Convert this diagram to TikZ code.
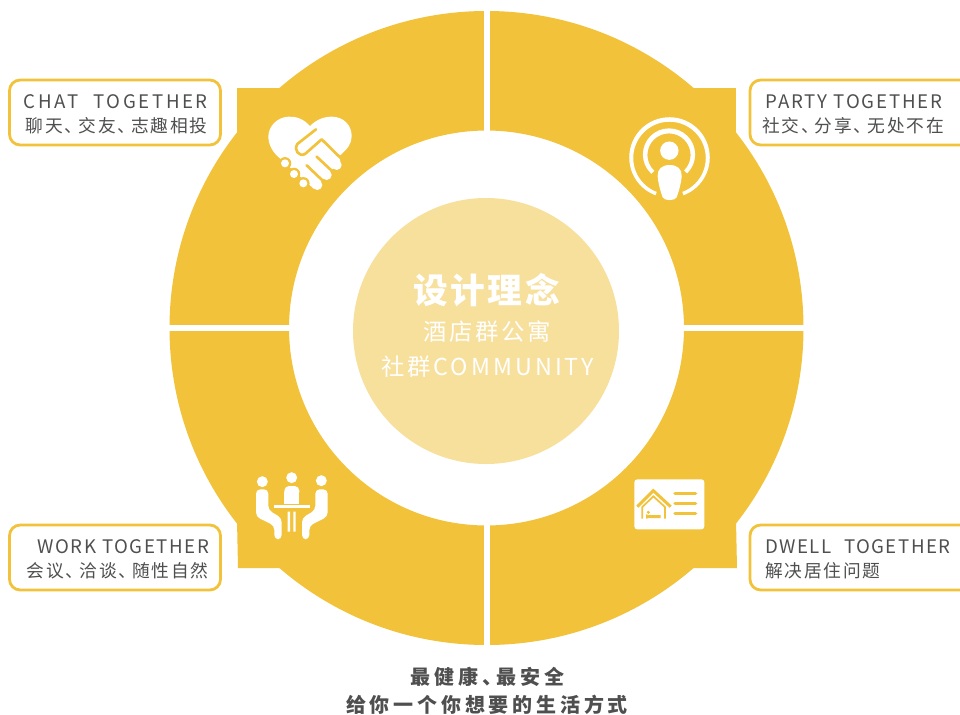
\documentclass[tikz,border=0pt]{standalone}
\usepackage{fontspec}
\setmainfont{Noto Sans CJK SC}
\newfontfamily\fa[LetterSpace=10]{Noto Sans CJK SC}
\newfontfamily\fb[LetterSpace=14,WordSpace=2.2]{Noto Sans CJK SC}
\newfontfamily\fc[LetterSpace=8]{Noto Sans CJK SC}
\newfontfamily\fd[LetterSpace=19]{Noto Sans CJK SC}
\newfontfamily\fe[LetterSpace=12]{Noto Sans CJK SC}
\newfontfamily\ff[LetterSpace=8,WordSpace=2.2]{Noto Sans CJK SC}
\newfontfamily\fg[LetterSpace=8.5]{Noto Sans CJK SC}
\newfontfamily\fh[LetterSpace=13]{Noto Sans CJK SC}
\newcommand{\dn}{、\kern-.22em}
\newcommand{\fn}{、\kern-.28em}
\definecolor{gold}{HTML}{F1C23A}
\definecolor{pale}{HTML}{F7DF9C}
\definecolor{ink}{HTML}{4F4F4F}
\tikzset{
  x=0.75pt,y=-0.75pt,
  card/.style={draw=gold,line width=2.1pt,fill=white,rounded corners=8pt},
  en/.style={text=ink,inner sep=0pt,font=\fontsize{14}{16}\selectfont\fa},
  enw/.style={text=ink,inner sep=0pt,font=\fontsize{14}{16}\selectfont\fb},
  enx/.style={text=ink,inner sep=0pt,font=\fontsize{14}{16}\selectfont\ff},
  eny/.style={text=ink,inner sep=0pt,font=\fontsize{14}{16}\selectfont\fg},
  cn/.style={text=ink,inner sep=0pt,font=\fontsize{13.3}{16}\selectfont\fa},
  foot/.style={text=ink,inner sep=0pt,font=\fontsize{15}{16}\selectfont\fd\bfseries},
  ic/.style={x=0.25pt,y=-0.25pt},
}
\begin{document}
\begin{tikzpicture}
\useasboundingbox (0,0) rectangle (960,714);
\clip (0,0) rectangle (960,714);
% ring
\fill[gold,even odd rule] (486.5,328) circle[radius=237.75pt] (486.5,328) circle[radius=148.1pt];
\fill[gold] (237,88) rectangle (300,140);
\fill[gold] (736,88) rectangle (670,140);
\fill[gold] (238,568) -- (237,520) -- (300,520) -- (300,568) -- cycle;
\fill[gold] (737,568) -- (736,520) -- (670,520) -- (670,568) -- cycle;
\fill[white] (483.7,0) rectangle (490.3,660);
\fill[white] (160,324.7) rectangle (815,331.3);
% centre
\node[circle,fill=pale,minimum size=199.5pt,inner sep=0pt] (hub) at (486,331) {};
\node[text=white,inner sep=0pt,font=\fontsize{26}{28}\selectfont\fc\bfseries] (t1) at (486.5,290) {设计理念};
\node[text=white,inner sep=0pt,font=\fontsize{17.5}{20}\selectfont\fe] (t2) at (487,331.8) {酒店群公寓};
\node[text=white,inner sep=0pt,font=\fontsize{17.5}{20}\selectfont\fh] (t3) at (487.5,366.8) {社群COMMUNITY};
% cards
\draw[card] (9.5,80) rectangle (220.5,145);
\draw[card] (750,80) rectangle (975,145);
\draw[card] (9.5,525) rectangle (220.5,590);
\draw[card] (750,525) rectangle (975,590);
\node[enw,anchor=east] (chatA) at (208,101.8) {CHAT TOGETHER};
\node[cn,anchor=east] (chatB) at (208,125.8) {聊天\dn 交友\dn 志趣相投};
\node[en,anchor=center] (partyA) at (854,101.8) {PARTY TOGETHER};
\node[cn,anchor=center] (partyB) at (853,125.8) {社交\dn 分享\dn 无处不在};
\node[eny,anchor=east] (workA) at (209.5,546.8) {WORK TOGETHER};
\node[cn,anchor=east] (workB) at (209,570.8) {会议\dn 洽谈\dn 随性自然};
\node[enx,anchor=west] (dwellA) at (765,546.8) {DWELL TOGETHER};
\node[cn,anchor=west] (dwellB) at (765,570.8) {解决居住问题};
\node[foot] (f1) at (487.5,676.8) {最健康\fn 最安全};
\node[foot] (f2) at (487,704.8) {给你一个你想要的生活方式};
% handshake icon
\begin{scope}[shift={(250,100)},ic]
\fill[white] (180,78) .. controls (160,56) and (138,49) .. (115,50) .. controls (80,52) and (55,80) .. (55,110)
  .. controls (55,135) and (70,160) .. (90,175) -- (191,266) -- (213,244) -- (219,236) -- (241,214) -- (249,206) -- (271,184) -- (268,168)
  .. controls (295,145) and (305,130) .. (305,108) .. controls (305,75) and (280,50) .. (245,50)
  .. controls (220,50) and (198,60) .. (180,78) -- cycle;
\fill[white] (260,195) circle[radius=3.75pt] (230,225) circle[radius=3.75pt] (202,255) circle[radius=3.75pt];
\draw[gold,line width=2pt,line cap=round,line join=round] (198,88) -- (142,132) .. controls (130,150) and (148,172) .. (165,162) -- (215,118) -- (272,174);
\draw[gold,line width=2pt,line cap=round] (200,170) -- (245,212);
\draw[gold,line width=2pt,line cap=round] (170,196) -- (216,240);
\foreach \p/\q in {105/190,132/222,160/250}{
  \fill[gold] (\p,\q) circle[radius=4.7pt];
  \fill[white] (\p,\q) circle[radius=3pt];
}
\end{scope}
% podcast icon
\begin{scope}
\clip (669.5,157) -- (630,265) -- (610,265) -- (610,100) -- (730,100) -- (730,265) -- (709,265) -- cycle;
\fill[white,even odd rule] (669.5,157.5) circle[radius=30.2pt] (669.5,158) circle[radius=27.2pt];
\end{scope}
\begin{scope}
\clip (669,156) -- (620,205) -- (620,110) -- (720,110) -- (720,205) -- cycle;
\fill[white,even odd rule] (669,154.5) circle[radius=19.6pt] (669,155) circle[radius=16.2pt];
\end{scope}
\begin{scope}[shift={(620,110)},ic]
\fill[white] (148,122) circle[radius=6.9pt];
\fill[white] (149,165) .. controls (125,165) and (112,178) .. (113,198) .. controls (114,220) and (122,245) .. (128,262)
  .. controls (132,273) and (166,273) .. (170,262) .. controls (176,245) and (184,220) .. (185,198) .. controls (186,178) and (173,165) .. (149,165) -- cycle;
\end{scope}
% meeting icon
\begin{scope}[shift={(240,460)},ic]
\fill[white] (67,65) circle[radius=4.1pt] (155,53) circle[radius=4.1pt] (244,62) circle[radius=4.1pt];
\fill[white,rounded corners=3.5pt] (133,110) -- (133,78) -- (178,78) -- (178,110) -- cycle;
\fill[white] (133,95) rectangle (178,131);
\fill[white] (103,135) rectangle (210,144);
\fill[white] (143,155) rectangle (150,215) (160,155) rectangle (167,215);
\fill[white,rounded corners=3.2pt] (48,170) -- (48,88) -- (85,88) -- (85,150) -- (125,174) -- (125,238) -- (103,238) -- (103,197) -- cycle;
\fill[white,rounded corners=3.2pt] (263,170) -- (263,88) -- (226,88) -- (226,150) -- (186,174) -- (186,238) -- (208,238) -- (208,197) -- cycle;
\end{scope}
% home card icon
\begin{scope}[shift={(625,470)},ic]
\fill[white,rounded corners=2.2pt] (28,28) rectangle (238,178);
\draw[gold,line width=2.4pt,line cap=round] (150,71) -- (212,71) (150,101) -- (212,101) (150,131) -- (212,131);
\draw[gold,line width=2.2pt,line join=miter] (37,110) -- (85,62) -- (137,110);
\draw[gold,line width=1.3pt] (52,146) -- (52,111) -- (85,79) -- (120,111) -- (120,146);
\fill[gold] (70,127) circle[radius=1.3pt];
\fill[gold] (63,133) rectangle (67,146) (67,135) rectangle (107,144);
\end{scope}
\end{tikzpicture}
\end{document}
